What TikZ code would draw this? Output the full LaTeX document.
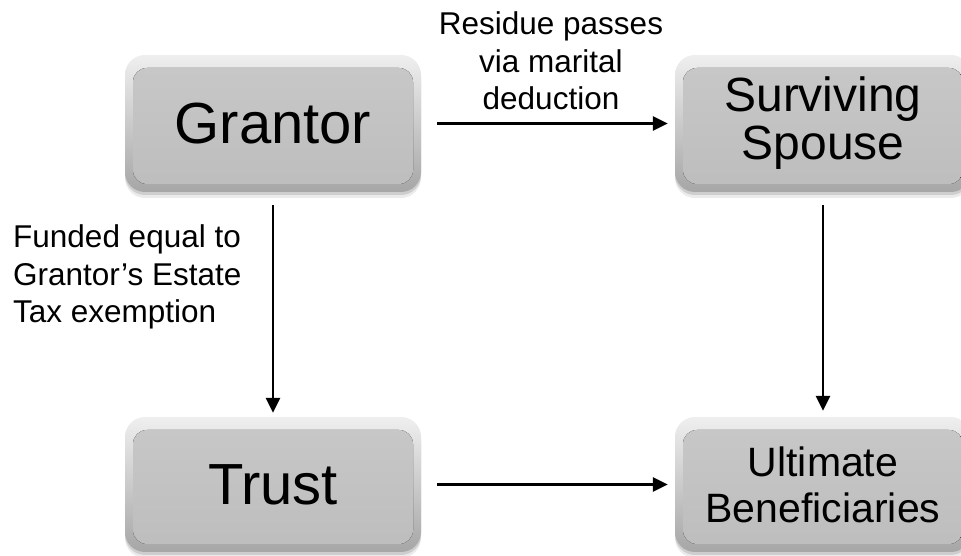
\documentclass[tikz,border=0pt]{standalone}
\usepackage{fontspec}
\setmainfont{Liberation Sans}
\usetikzlibrary{arrows.meta}
\definecolor{btop}{HTML}{EFEFEF}
\definecolor{bmid}{HTML}{C4C4C4}
\definecolor{bbot}{HTML}{A6A6A6}
\definecolor{itop}{HTML}{C8C8C8}
\definecolor{ibot}{HTML}{BDBDBD}
\tikzset{
  gbox/.style={
    minimum width=296pt, minimum height=137pt, inner sep=0pt,
    rounded corners=20pt,
    preaction={fill=black, opacity=0.08, transform canvas={yshift=-6pt}},
    preaction={fill=black, opacity=0.12, transform canvas={yshift=-3pt}},
    top color=btop, middle color=bmid, bottom color=bbot,
    path picture={
      \fill[rounded corners=14pt, top color=itop, bottom color=ibot]
        ([shift={(8pt,-13pt)}]path picture bounding box.north west) rectangle
        ([shift={(-8pt,8pt)}]path picture bounding box.south east);
    },
    text=black, align=center
  },
  bigtext/.style={font=\fontsize{58}{66}\selectfont},
  midtext/.style={font=\fontsize{48}{48}\selectfont},
  smalltext/.style={font=\fontsize{41}{46}\selectfont},
  lbl/.style={font=\fontsize{31.5}{37.5}\selectfont, inner sep=0pt},
  arr/.style={line width=2.6pt, -{Triangle[length=15pt,width=14pt]}}
}
\begin{document}
\begin{tikzpicture}[x=1pt,y=1pt]
  \useasboundingbox (0,0) rectangle (961,556);
  \clip (0,0) rectangle (961,556);
  \fill[white] (0,0) rectangle (961,556);

  % the four parties
  \node[gbox, bigtext] (grantor) at (273,432.5) {Grantor};
  \node[gbox, midtext] (spouse) at (823,432.5) {Surviving\\Spouse};
  \node[gbox, bigtext, minimum height=135pt] (trust) at (273,71.5) {Trust};
  \node[gbox, smalltext, minimum height=135pt] (benef) at (823,71.5) {Ultimate\\Beneficiaries};

  % flows between them
  \draw[arr, shorten <=16pt, shorten >=7pt] (grantor) -- (spouse);
  \draw[arr, shorten <=13pt, shorten >=4pt] (grantor) -- (trust);
  \draw[arr, shorten <=13pt, shorten >=6pt] (spouse) -- (benef);
  \draw[arr, shorten <=16pt, shorten >=7pt] (trust) -- (benef);

  % flow labels (base anchor sits on the last line)
  \node[lbl, align=center, anchor=base] (residue) at (551,446) {Residue passes\\via marital\\deduction};
  \node[lbl, align=left, anchor=base west] (funded) at (13,233) {Funded equal to\\Grantor’s Estate\\Tax exemption};
\end{tikzpicture}
\end{document}
